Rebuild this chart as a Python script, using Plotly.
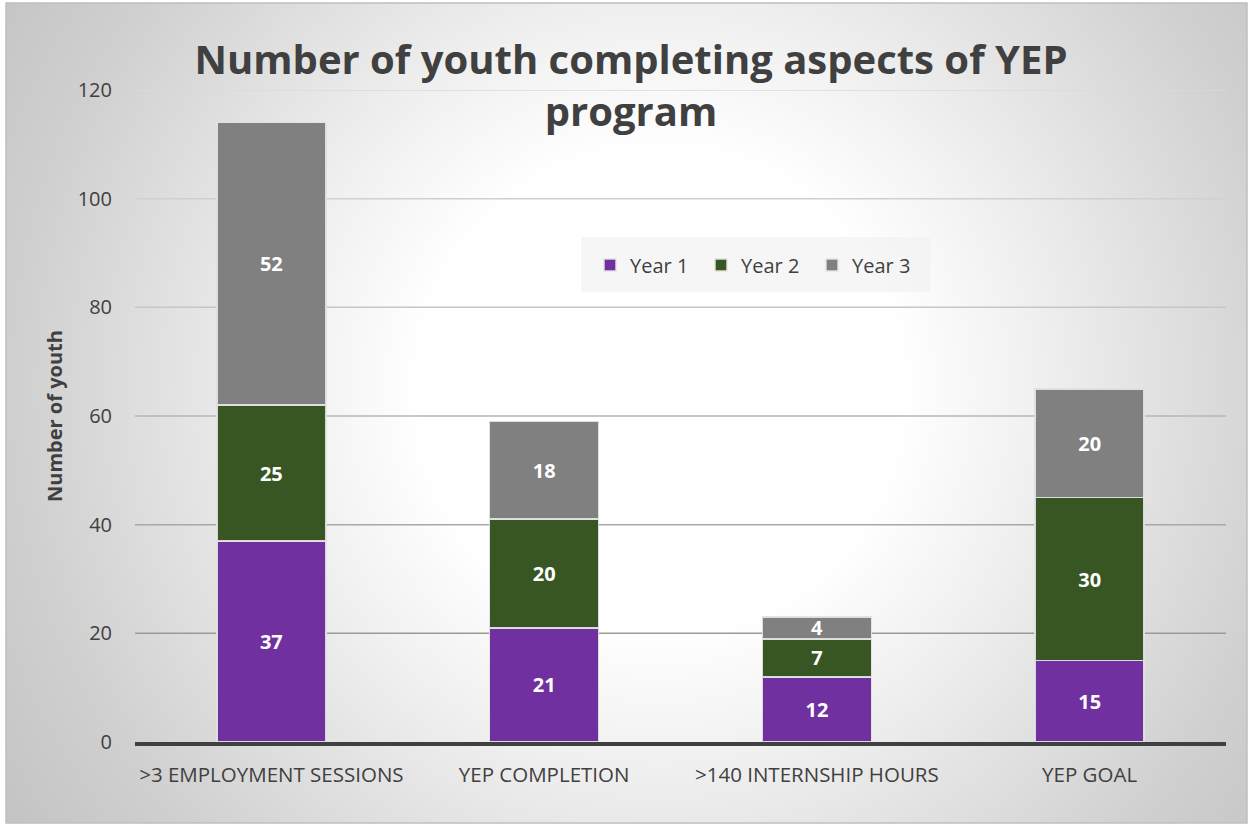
import base64
import plotly.graph_objects as go

categories = [">3 EMPLOYMENT SESSIONS", "YEP COMPLETION", ">140 INTERNSHIP HOURS", "YEP GOAL"]
year1 = [37, 21, 12, 15]
year2 = [25, 20, 7, 30]
year3 = [52, 18, 4, 20]
y_ticks = [0, 20, 40, 60, 80, 100, 120]

W, H = 1253, 826
L, R, T, B = 135, 27, 90, 84
pw, ph = W - L - R, H - T - B

# radial gradient background as an svg image
svg = f"""<svg xmlns='http://www.w3.org/2000/svg' width='{W}' height='{H}'>
<defs><radialGradient id='g' cx='660' cy='390' r='800' gradientUnits='userSpaceOnUse'>
<stop offset='0' stop-color='#ffffff'/><stop offset='0.3' stop-color='#ffffff'/>
<stop offset='0.47' stop-color='#f0f0f0'/><stop offset='0.8' stop-color='#d0d0d0'/>
<stop offset='1' stop-color='#c2c2c2'/></radialGradient></defs>
<rect x='0' y='0' width='{W}' height='{H}' fill='#ffffff'/>
<rect x='6' y='3' width='{W - 12}' height='{H - 6}' fill='url(#g)' stroke='#bfbfbf' stroke-width='1.5'/>
</svg>"""
bg_src = "data:image/svg+xml;base64," + base64.b64encode(svg.encode()).decode()

font = "'Open Sans', sans-serif"
line = dict(color="rgba(225,225,225,0.95)", width=1.5)

fig = go.Figure()
for name, vals, col in [("Year 1", year1, "#7030a0"),
                        ("Year 2", year2, "#375623"),
                        ("Year 3", year3, "#808080")]:
    fig.add_trace(go.Bar(
        x=categories, y=vals, name=name,
        marker=dict(color=col, line=line),
        text=vals, textposition="inside", insidetextanchor="middle",
        textfont=dict(color="white", size=20, family=font, weight="bold"),
        textangle=0,
    ))

# gridlines get darker toward the bottom, like the original
grid_cols = {20: "#9a9a9a", 40: "#a8a8a8", 60: "#b6b6b6", 80: "#c6c6c6",
             100: "#d0d0d0", 120: "#dadada"}
shapes = []
for v in y_ticks[1:]:
    shapes.append(dict(type="line", xref="paper", yref="y", x0=0, x1=1, y0=v, y1=v,
                       line=dict(color=grid_cols[v], width=1.5), layer="below"))
# legend box
shapes.append(dict(type="rect", xref="paper", yref="paper",
                   x0=(581 - L) / pw, x1=(930 - L) / pw,
                   y0=(H - B - 292) / ph, y1=(H - B - 237) / ph,
                   fillcolor="rgba(238,238,238,0.55)", line=dict(width=0), layer="below"))

fig.update_layout(
    width=W, height=H,
    barmode="stack", bargap=0.6,
    uniformtext=dict(minsize=20, mode="show"),
    paper_bgcolor="white", plot_bgcolor="rgba(0,0,0,0)",
    margin=dict(l=L, r=R, t=T, b=B),
    font=dict(family=font, color="#404040", size=19),
    title=dict(text="Number of youth completing aspects of YEP<br>program",
               x=631 / W, xanchor="center", y=1 - 74 / H, yanchor="middle",
               font=dict(size=40, color="#404040", family=font, weight="bold")),
    legend=dict(orientation="h", x=(590 - L) / pw, y=(H - B - 265) / ph,
                xanchor="left", yanchor="middle", bgcolor="rgba(0,0,0,0)",
                font=dict(size=20, color="#404040"), traceorder="normal",
                itemwidth=30, entrywidth=66),
    shapes=shapes,
    images=[dict(source=bg_src, xref="paper", yref="paper",
                 x=-L / pw, y=1 + T / ph, sizex=W / pw, sizey=H / ph,
                 xanchor="left", yanchor="top", sizing="stretch", layer="below")],
    xaxis=dict(showline=True, linecolor="#404040", linewidth=3.5,
               ticks="", ticklabelstandoff=12,
               tickfont=dict(size=20.5, color="#404040")),
    yaxis=dict(range=[0, 120], tickvals=y_ticks, showgrid=False,
               zeroline=False, ticklabelstandoff=22,
               tickfont=dict(size=20, color="#404040"),
               title=dict(text="Number of youth", standoff=9,
                          font=dict(size=20, color="#404040", family=font, weight="bold"))),
)

fig.write_html("out.html", config={"displayModeBar": False},
               post_script="document.body.style.margin='0';")
